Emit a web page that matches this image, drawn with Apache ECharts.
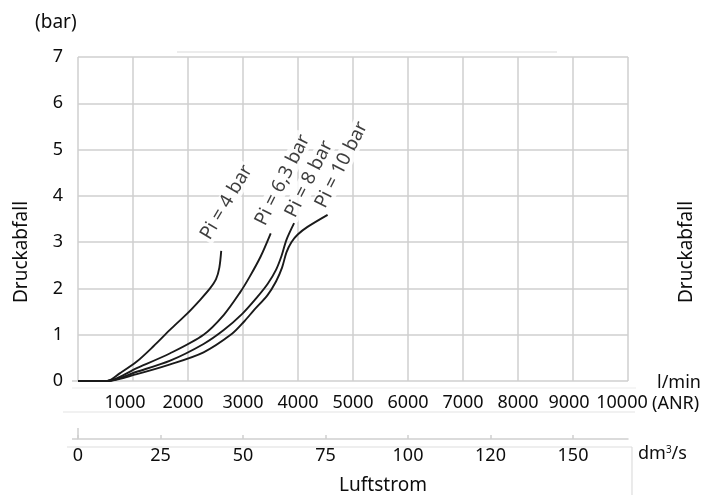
<!DOCTYPE html>
<html>
<head>
<meta charset="utf-8">
<script src="https://cdn.jsdelivr.net/npm/echarts@6/dist/echarts.min.js"></script>
<style>html,body{margin:0;padding:0;background:#fff}#c{width:701px;height:495px}</style>
</head>
<body>
<div id="c"></div>
<script>
// ---- data (flow in l/min ANR, pressure drop in bar) ----
const xTicks = [0, 1000, 2000, 3000, 4000, 5000, 6000, 7000, 8000, 9000, 10000];
const yTicks = [0, 1, 2, 3, 4, 5, 6, 7];
const dm3Labels = ['0', '25', '50', '75', '100', '120', '150'];
const seriesNames = ['Pi = 4 bar', 'Pi = 6,3 bar', 'Pi = 8 bar', 'Pi = 10 bar'];
const pi4 = [[0,0],[530,0],[765,0.17],[1069,0.42],[1372,0.75],[1676,1.11],[1980,1.45],[2226,1.76],[2400,2.0],[2510,2.2],[2570,2.45],[2604,2.81]];
const pi63 = [[0,0],[530,0],[1069,0.28],[1676,0.60],[2283,1.0],[2652,1.43],[2950,1.92],[3120,2.25],[3321,2.69],[3504,3.19]];
const pi8 = [[0,0],[530,0],[1069,0.20],[1676,0.44],[2283,0.80],[2650,1.1],[2986,1.45],[3250,1.8],[3450,2.1],[3600,2.4],[3700,2.7],[3790,3.05],[3929,3.41]];
const pi10 = [[0,0],[530,0],[1069,0.15],[1676,0.36],[2283,0.62],[2800,1.02],[3017,1.28],[3199,1.53],[3443,1.85],[3600,2.15],[3710,2.45],[3790,2.78],[3880,3.0],[4000,3.17],[4173,3.33],[4538,3.59]];
// label anchors (data coordinates)
const labelAnchors = [[2700,3.86],[3720,4.34],[4200,4.36],[4790,4.67]];
const labelAngles = [59, 63, 63, 63];

const FONT = 'Noto Sans';
const GRID_C = '#cfcfcf';
const TXT = '#0d0d0d';
// small horizontal nudges of some top tick labels (as in the original)
const xLabelShift = {1000: 16, 2000: 10, 9000: 8, 10000: 12};

const chart = echarts.init(document.getElementById('c'), null, {renderer: 'canvas'});

const lineSeries = [pi4, pi63, pi8, pi10].map((d, i) => ({
  type: 'line', name: seriesNames[i], data: d, smooth: 0.3, symbol: 'none',
  lineStyle: {color: '#1a1a1a', width: 1.9}, xAxisIndex: 0, yAxisIndex: 0, z: 3
}));

const labelSeries = {
  type: 'scatter', xAxisIndex: 0, yAxisIndex: 0, symbolSize: 1, z: 5,
  itemStyle: {color: 'rgba(0,0,0,0)'},
  data: labelAnchors.map((p, i) => ({value: p, name: seriesNames[i],
    label: {rotate: labelAngles[i]}})),
  label: {
    show: true, position: 'inside', formatter: p => p.name,
    fontFamily: FONT, fontSize: 19, color: TXT, align: 'center', verticalAlign: 'middle',
    backgroundColor: '#fff', padding: [0, 2]
  },
  emphasis: {disabled: true}
};

const richTop = {};
Object.keys(xLabelShift).forEach(k => {
  richTop['s' + k] = {fontFamily: FONT, fontSize: 18, color: TXT, padding: [0, xLabelShift[k], 0, 0]};
});

const option = {
  animation: false,
  textStyle: {fontFamily: FONT},
  grid: [
    {left: 78, right: 73, top: 57, bottom: 114, containLabel: false},
    {left: 78, right: 73, top: 438, height: 1, containLabel: false}
  ],
  xAxis: [
    {
      type: 'value', gridIndex: 0, min: xTicks[0], max: xTicks[xTicks.length - 1], interval: 1000,
      axisLine: {show: false}, axisTick: {show: false},
      splitLine: {show: true, lineStyle: {color: GRID_C, width: 1.5}},
      axisLabel: {fontFamily: FONT, fontSize: 18, color: TXT, margin: 13, rich: richTop,
        formatter: v => {
          if (v === 0) return '';
          if (xLabelShift[v] !== undefined) return '{s' + v + '|' + v + '}';
          return String(v);
        }}
    },
    {
      type: 'value', gridIndex: 1, min: 0, max: 10000, interval: 1500, position: 'bottom',
      axisLine: {show: true, lineStyle: {color: GRID_C, width: 1.5}},
      axisTick: {show: true, inside: true, length: 4, lineStyle: {color: GRID_C, width: 1.5}},
      splitLine: {show: false},
      axisLabel: {fontFamily: FONT, fontSize: 18, color: TXT, margin: 8, showMaxLabel: false,
        formatter: v => { const i = Math.round(v / 1500); return dm3Labels[i] !== undefined ? dm3Labels[i] : ''; }}
    }
  ],
  yAxis: [
    {
      type: 'value', gridIndex: 0, min: yTicks[0], max: yTicks[yTicks.length - 1], interval: 1,
      axisLine: {show: false}, axisTick: {show: false},
      splitLine: {show: true, lineStyle: {color: GRID_C, width: 1.5}},
      axisLabel: {fontFamily: FONT, fontSize: 18, color: TXT, margin: 15}
    },
    {type: 'value', gridIndex: 1, min: 0, max: 1, show: false}
  ],
  series: lineSeries.concat([labelSeries]),
  graphic: [
    {type: 'line', shape: {x1: 177, y1: 52, x2: 557, y2: 52}, style: {stroke: '#e6e6e6', lineWidth: 1.5}, silent: true},
    {type: 'line', shape: {x1: 72, y1: 381, x2: 78, y2: 381}, style: {stroke: GRID_C, lineWidth: 1.5}, silent: true},
    {type: 'line', shape: {x1: 72, y1: 388, x2: 636, y2: 388}, style: {stroke: '#ececec', lineWidth: 1.2}, silent: true},
    {type: 'line', shape: {x1: 63, y1: 412, x2: 635, y2: 412}, style: {stroke: '#e3e3e3', lineWidth: 1.2}, silent: true},
    {type: 'line', shape: {x1: 72, y1: 439, x2: 78, y2: 439}, style: {stroke: GRID_C, lineWidth: 1.5}, silent: true},
    {type: 'line', shape: {x1: 78, y1: 428, x2: 78, y2: 439}, style: {stroke: GRID_C, lineWidth: 1.5}, silent: true},
    {type: 'line', shape: {x1: 67, y1: 447, x2: 632, y2: 447}, style: {stroke: '#dddddd', lineWidth: 1.2}, silent: true},
    {type: 'line', shape: {x1: 632, y1: 447, x2: 632, y2: 495}, style: {stroke: '#dddddd', lineWidth: 1.2}, silent: true},
    {type: 'text', left: 35, top: 13, style: {text: '(bar)', fontFamily: FONT, fontSize: 19, fill: TXT}},
    {type: 'text', x: 22, y: 252, rotation: Math.PI / 2,
      style: {text: 'Druckabfall', fontFamily: FONT, fontSize: 19, fill: TXT, align: 'center', verticalAlign: 'middle'}},
    {type: 'text', x: 687, y: 252, rotation: Math.PI / 2,
      style: {text: 'Druckabfall', fontFamily: FONT, fontSize: 19, fill: TXT, align: 'center', verticalAlign: 'middle'}},
    {type: 'text', x: 657, y: 383, style: {text: 'l/min', fontFamily: FONT, fontSize: 18, fill: TXT, verticalAlign: 'middle'}},
    {type: 'text', x: 652, y: 404, style: {text: '(ANR)', fontFamily: FONT, fontSize: 18, fill: TXT, verticalAlign: 'middle'}},
    {type: 'text', x: 638, y: 454, style: {
      text: '{a|dm}{s|3}{a|/s}', verticalAlign: 'middle',
      rich: {a: {fontFamily: FONT, fontSize: 18, fill: TXT}, s: {fontFamily: FONT, fontSize: 10, fill: TXT, verticalAlign: 'top', padding: [0, 0, 8, 0]}}
    }},
    {type: 'text', x: 383, y: 486, style: {text: 'Luftstrom', fontFamily: FONT, fontSize: 19, fill: TXT, align: 'center', verticalAlign: 'middle'}}
  ]
};
chart.setOption(option);
</script>
</body>
</html>
